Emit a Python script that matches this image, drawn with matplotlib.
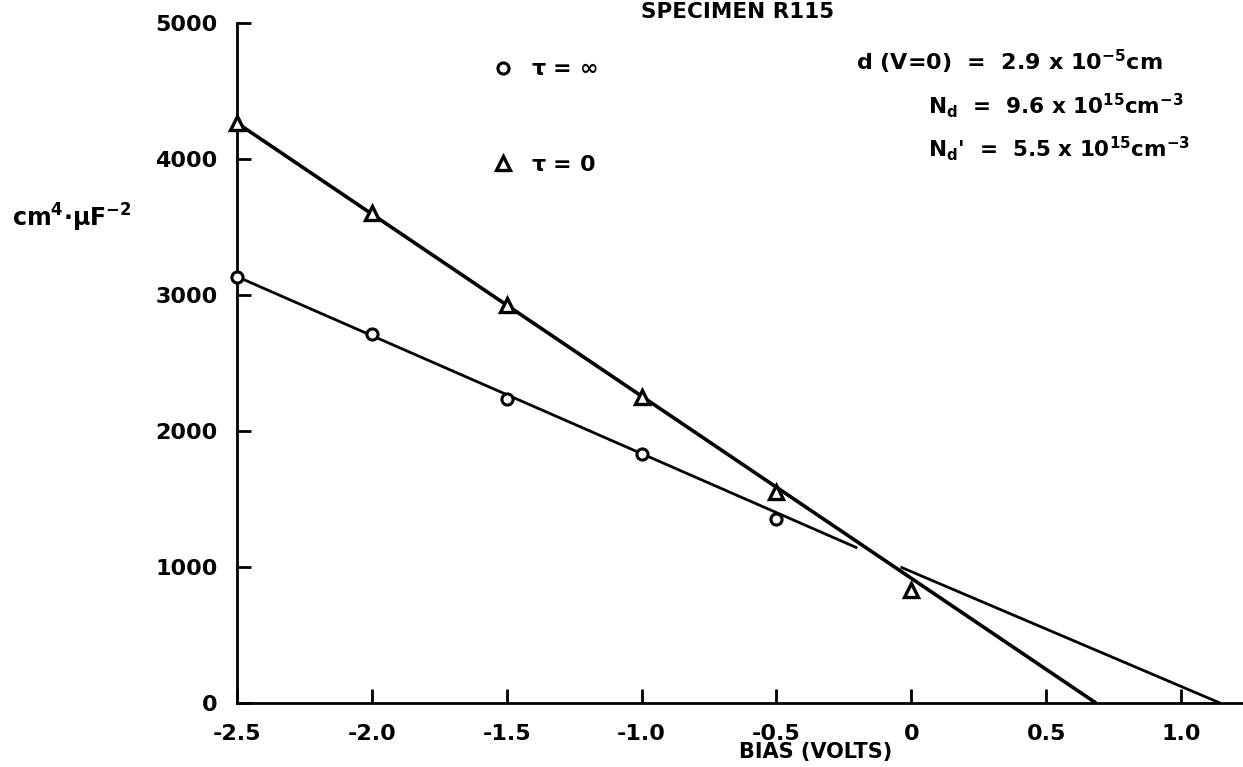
import matplotlib.pyplot as plt

plt.rcParams['font.family'] = ['DejaVu Sans']
plt.rcParams['font.weight'] = 'bold'
plt.rcParams['mathtext.default'] = 'bf'

# measured points
bias = [-2.5, -2.0, -1.5, -1.0, -0.5, 0.0]
tau_zero = [4265, 3603, 2926, 2250, 1551, 830]
bias_inf = [-2.5, -2.0, -1.5, -1.0, -0.5]
tau_inf = [3132, 2713, 2235, 1831, 1353]

# hand drawn fit lines (end points)
fit_zero_x = [-2.5, 0.685]
fit_zero_y = [4265, 0]
fit_inf_x1 = [-2.5, -0.2]
fit_inf_y1 = [3135, 1140]
fit_inf_x2 = [-0.04, 1.145]
fit_inf_y2 = [1000, 0]

xticks = [-2.5, -2.0, -1.5, -1.0, -0.5, 0, 0.5, 1.0]
xticklabels = ['-2.5', '-2.0', '-1.5', '-1.0', '-0.5', '0', '0.5', '1.0']
yticks = [0, 1000, 2000, 3000, 4000, 5000]

fig = plt.figure(figsize=(12.43, 7.67), dpi=100)
ax = fig.add_axes([0.1907, 0.0834, 0.8093, 0.8866])

ax.plot(fit_zero_x, fit_zero_y, color='black', lw=2.6, solid_capstyle='butt')
ax.plot(fit_inf_x1, fit_inf_y1, color='black', lw=2.0, solid_capstyle='butt')
ax.plot(fit_inf_x2, fit_inf_y2, color='black', lw=2.0, solid_capstyle='butt')

ax.plot(bias_inf, tau_inf, ls='none', marker='o', ms=8, mew=2.2,
        mfc='white', mec='black', label=r'$\tau$ = ∞', clip_on=False, zorder=5)
ax.plot(bias, tau_zero, ls='none', marker='^', ms=10, mew=2.4,
        mfc='white', mec='black', label=r'$\tau$ = 0', clip_on=False, zorder=5)

ax.set_xlim(-2.5, 1.23)
ax.set_ylim(0, 5000)
ax.set_xticks(xticks)
ax.set_xticklabels(xticklabels)
ax.set_yticks(yticks)
for s in ['top', 'right']:
    ax.spines[s].set_visible(False)
for s in ['left', 'bottom']:
    ax.spines[s].set_linewidth(2.0)
ax.tick_params(axis='both', direction='in', length=10, width=2,
               labelsize=16)
ax.tick_params(axis='x', pad=15)
ax.tick_params(axis='y', pad=14)

ax.set_xlabel('BIAS (VOLTS)', fontsize=15, fontweight='bold')
ax.xaxis.label.set_va('center')
ax.xaxis.set_label_coords(0.575, -0.072)
ax.set_ylabel(r'cm$^{4}$$\cdot$$\mu$F$^{-2}$', fontsize=17, rotation=0,
              fontweight='bold')
ax.yaxis.set_label_coords(-0.164, 0.69)

ax.text(0.498, 1.016, 'SPECIMEN R115', transform=ax.transAxes,
        ha='center', va='center', fontsize=15.5, fontweight='bold')

ax.legend(loc='upper left', bbox_to_anchor=(0.233, 0.976), frameon=False,
          numpoints=1, handlelength=1.0, handletextpad=0.8,
          labelspacing=3.4, fontsize=16)

ax.text(0.615, 0.943, r'd (V=0)  =  2.9 x 10$^{-5}$cm', transform=ax.transAxes,
        ha='left', va='center', fontsize=16)
ax.text(0.687, 0.879, r'N$_{d}$  =  9.6 x 10$^{15}$cm$^{-3}$', transform=ax.transAxes,
        ha='left', va='center', fontsize=15.5)
ax.text(0.687, 0.816, r"N$_{d}$'  =  5.5 x 10$^{15}$cm$^{-3}$", transform=ax.transAxes,
        ha='left', va='center', fontsize=15.5)

fig.savefig('out.png', dpi=100)
